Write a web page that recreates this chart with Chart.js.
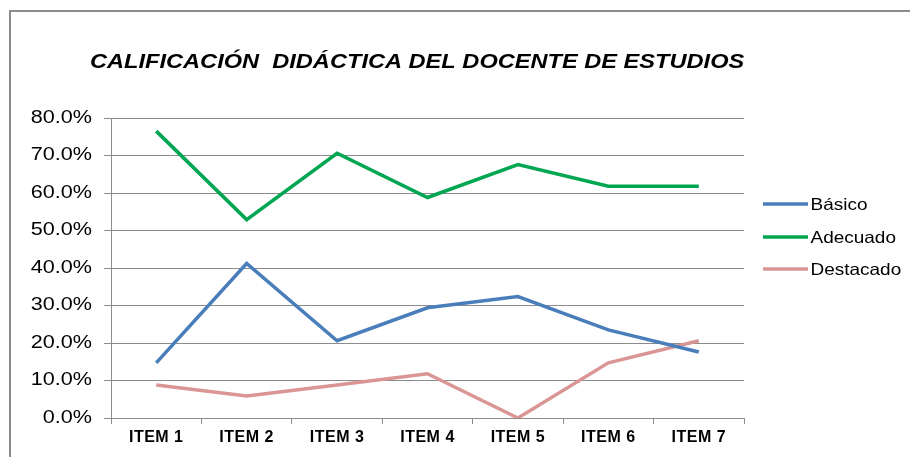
<!DOCTYPE html>
<html>
<head>
<meta charset="utf-8">
<script src="https://cdn.jsdelivr.net/npm/chart.js@4/dist/chart.umd.min.js"></script>
<style>
  html, body { margin: 0; padding: 0; background: #ffffff; }
  #wrap { width: 910px; height: 457px; position: relative; }
</style>
</head>
<body>
<div id="wrap"><canvas id="c" width="910" height="457"></canvas></div>
<script>
const chartTitle = "CALIFICACIÓN  DIDÁCTICA DEL DOCENTE DE ESTUDIOS";
const categories = ["ITEM 1", "ITEM 2", "ITEM 3", "ITEM 4", "ITEM 5", "ITEM 6", "ITEM 7"];
const seriesNames = ["Básico", "Adecuado", "Destacado"];
const basico    = [0.147, 0.412, 0.206, 0.294, 0.324, 0.235, 0.176];
const adecuado  = [0.765, 0.529, 0.706, 0.588, 0.676, 0.618, 0.618];
const destacado = [0.088, 0.059, 0.088, 0.118, 0.000, 0.147, 0.206];
const seriesColors = ["#4A7EBB", "#00A651", "#D99694"];

const FONT = "'Liberation Sans', Arial, sans-serif";

function wrapX(scale) {
  if (scale._wrapped) return;
  const orig = scale.drawLabels.bind(scale);
  scale.drawLabels = function (ca) {
    const ctx = this.ctx;
    ctx.save();
    if ('letterSpacing' in ctx) ctx.letterSpacing = '0.5px';
    orig(ca);
    ctx.restore();
  };
  scale._wrapped = true;
}

function wrapY(scale) {
  if (scale._wrapped) return;
  const orig = scale.drawLabels.bind(scale);
  scale.drawLabels = function (ca) {
    const ctx = this.ctx;
    const ax = this.right - 7 - 12;
    ctx.save();
    ctx.translate(ax, 0);
    ctx.scale(1.2, 1);
    ctx.translate(-ax, 0);
    orig(ca);
    ctx.restore();
  };
  scale._wrapped = true;
}

const decorPlugin = {
  id: 'decor',
  beforeDraw(chart) {
    const ctx = chart.ctx;
    ctx.save();
    ctx.fillStyle = '#ffffff';
    ctx.fillRect(0, 0, chart.width, chart.height);
    ctx.strokeStyle = '#8c8c8c';
    ctx.lineWidth = 2;
    ctx.beginPath();
    ctx.moveTo(10, chart.height + 2);
    ctx.lineTo(10, 11);
    ctx.lineTo(chart.width + 2, 11);
    ctx.stroke();
    ctx.restore();
  },
  afterDraw(chart) {
    const ctx = chart.ctx;
    ctx.save();
    ctx.fillStyle = '#000000';
    ctx.font = "italic bold 20px " + FONT;
    ctx.textBaseline = 'middle';
    ctx.textAlign = 'left';
    ctx.translate(90, 62);
    ctx.scale(1.18, 1);
    ctx.fillText(chartTitle, 0, 0);
    ctx.restore();
    const ys = [204, 237, 269];
    chart.data.datasets.forEach((ds, i) => {
      ctx.save();
      ctx.strokeStyle = ds.borderColor;
      ctx.lineWidth = 3.5;
      ctx.beginPath();
      ctx.moveTo(763, ys[i]);
      ctx.lineTo(808, ys[i]);
      ctx.stroke();
      ctx.fillStyle = '#000000';
      ctx.font = "16.5px " + FONT;
      ctx.textAlign = 'left';
      ctx.textBaseline = 'middle';
      ctx.translate(810.5, ys[i] + 1);
      ctx.scale(1.15, 1);
      ctx.fillText(ds.label, 0, 0);
      ctx.restore();
    });
  }
};

new Chart(document.getElementById('c'), {
  type: 'line',
  data: {
    labels: categories,
    datasets: [
      { label: seriesNames[0], data: basico,    borderColor: seriesColors[0], backgroundColor: seriesColors[0] },
      { label: seriesNames[1], data: adecuado,  borderColor: seriesColors[1], backgroundColor: seriesColors[1] },
      { label: seriesNames[2], data: destacado, borderColor: seriesColors[2], backgroundColor: seriesColors[2] }
    ]
  },
  options: {
    responsive: false,
    animation: false,
    devicePixelRatio: 1,
    layout: { padding: { left: 0, right: 166, top: 118, bottom: 0 } },
    elements: {
      line: { borderWidth: 3.5, tension: 0, borderCapStyle: 'butt', borderJoinStyle: 'miter' },
      point: { radius: 0, hoverRadius: 0 }
    },
    plugins: {
      legend: { display: false },
      title: { display: false },
      tooltip: { enabled: false }
    },
    scales: {
      x: {
        offset: true,
        afterFit(scale) { scale.height = 39; wrapX(scale); },
        grid: {
          offset: true,
          drawOnChartArea: false,
          drawTicks: true,
          tickLength: 6,
          color: '#8c8c8c',
          lineWidth: 1
        },
        border: { display: true, color: '#8c8c8c', width: 1 },
        ticks: {
          color: '#000000',
          padding: 4,
          maxRotation: 0,
          autoSkip: false,
          font: { family: FONT, size: 16, weight: 'bold' }
        }
      },
      y: {
        min: 0,
        max: 0.8,
        afterFit(scale) { scale.width = 111; wrapY(scale); },
        grid: {
          color: '#8c8c8c',
          lineWidth: 1,
          drawTicks: true,
          tickLength: 7
        },
        border: { display: true, color: '#8c8c8c', width: 1 },
        ticks: {
          stepSize: 0.1,
          color: '#000000',
          padding: 12,
          font: { family: FONT, size: 18 },
          callback: (v) => (v * 100).toFixed(1) + '%'
        }
      }
    }
  },
  plugins: [decorPlugin]
});
</script>
</body>
</html>
